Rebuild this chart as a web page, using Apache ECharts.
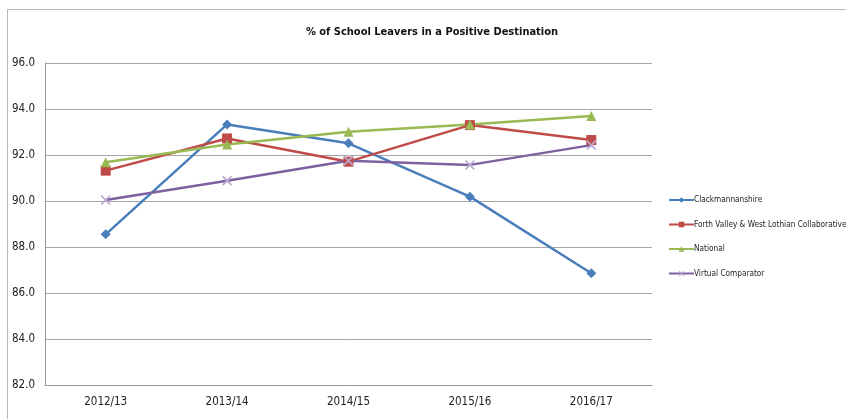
<!DOCTYPE html>
<html>
<head>
<meta charset="utf-8">
<script src="https://cdn.jsdelivr.net/npm/echarts@6/dist/echarts.min.js"></script>
<style>html,body{margin:0;padding:0;background:#fff;}#c{width:846px;height:419px;}</style>
</head>
<body>
<div id="c"></div>
<script>
var categories = ['2012/13', '2013/14', '2014/15', '2015/16', '2016/17'];
var clackmannanshire = [88.55, 93.33, 92.51, 90.19, 86.86];
var forthValley = [91.32, 92.72, 91.71, 93.30, 92.65];
var national = [91.68, 92.46, 93.01, 93.33, 93.70];
var virtualComparator = [90.04, 90.88, 91.75, 91.57, 92.43];
var yTicks = { min: 82, max: 96, interval: 2 };

var FONT = '"Liberation Sans Narrow", "DejaVu Sans Condensed", "Liberation Sans", sans-serif';
var xPath = 'path://M0,1.2L1.2,0L5,3.8L8.8,0L10,1.2L6.2,5L10,8.8L8.8,10L5,6.2L1.2,10L0,8.8L3.8,5Z';

function mk(name, data, color, symbol, size, symColor) {
  return {
    name: name, type: 'line', data: data,
    symbol: symbol, symbolSize: size,
    lineStyle: { color: color, width: 2.5 },
    itemStyle: { color: symColor || color },
    emphasis: { disabled: true },
    animation: false
  };
}

var chart = echarts.init(document.getElementById('c'), null, { renderer: 'canvas' });
chart.setOption({
  backgroundColor: '#fff',
  animation: false,
  title: {
    text: '% of School Leavers in a Positive Destination',
    left: 432, top: 27, textAlign: 'center', padding: 0,
    textStyle: { fontFamily: FONT, fontSize: 11, fontWeight: 'bold', color: '#111' }
  },
  graphic: [{
    type: 'rect', shape: { x: 7.5, y: 9.5, width: 860, height: 430 },
    style: { fill: 'none', stroke: '#b8b8b8', lineWidth: 1 }, silent: true, z: -1
  }],
  legend: {
    orient: 'vertical', left: 668, top: 196, itemGap: 16.5, padding: 0,
    itemWidth: 25, itemHeight: 7,
    textStyle: { fontFamily: FONT, fontSize: 8.2, color: '#222', padding: [0, 0, 0, -5] },
    data: ['Clackmannanshire', 'Forth Valley & West Lothian Collaborative', 'National', 'Virtual Comparator']
  },
  grid: { left: 45, right: 194, top: 63, bottom: 34, containLabel: false },
  xAxis: {
    type: 'category', data: categories, boundaryGap: true,
    axisLine: { lineStyle: { color: '#999', width: 1 } },
    axisTick: { show: false },
    axisLabel: { fontFamily: FONT, fontSize: 11.5, color: '#222', margin: 11 }
  },
  yAxis: {
    type: 'value', min: yTicks.min, max: yTicks.max, interval: yTicks.interval,
    axisLine: { show: true, lineStyle: { color: '#999', width: 1 } },
    axisTick: { show: false },
    splitLine: { lineStyle: { color: '#a6a6a6', width: 1 } },
    axisLabel: { fontFamily: FONT, fontSize: 11.5, color: '#222', margin: 10,
      formatter: function (v) { return v.toFixed(1); } }
  },
  series: [
    mk('Clackmannanshire', clackmannanshire, '#4A7EBB', 'diamond', 10),
    mk('Forth Valley & West Lothian Collaborative', forthValley, '#BE4B48', 'rect', 10),
    mk('National', national, '#98B954', 'triangle', 10),
    mk('Virtual Comparator', virtualComparator, '#7D60A0', xPath, 10, '#b9a8cf')
  ]
});
</script>
</body>
</html>
